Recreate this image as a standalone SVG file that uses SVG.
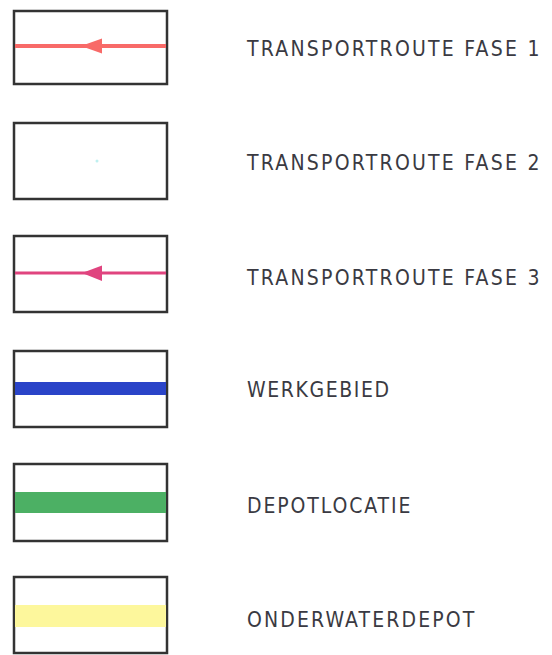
<svg xmlns="http://www.w3.org/2000/svg" width="552" height="655" viewBox="0 0 552 655">
<style>
.box{fill:#fff;stroke:#333;stroke-width:2.5}
.lbl{font-family:"DejaVu Sans Condensed","DejaVu Sans",sans-serif;font-size:21px;fill:#3a3a42;letter-spacing:1.6px}
</style>
<rect width="552" height="655" fill="#fff"/>
<g id="legend1">
<rect class="box" x="14" y="11" width="153" height="73"/>
<line x1="15" y1="46" x2="166" y2="46" stroke="#f86a68" stroke-width="4"/>
<polygon points="81,46 102,38.5 102,53.5" fill="#f86a68"/>
<text class="lbl" x="247" y="56" textLength="294" lengthAdjust="spacing">TRANSPORTROUTE FASE 1</text>
</g>
<g id="legend2">
<rect class="box" x="14" y="123" width="153" height="76"/>
<circle cx="97" cy="161" r="1.5" fill="#bff0f0"/>
<text class="lbl" x="247" y="170" textLength="294" lengthAdjust="spacing">TRANSPORTROUTE FASE 2</text>
</g>
<g id="legend3">
<rect class="box" x="14" y="236" width="153" height="76"/>
<line x1="15" y1="273" x2="166" y2="273" stroke="#e0447f" stroke-width="3"/>
<polygon points="82,273 102,265.5 102,281" fill="#e0447f"/>
<text class="lbl" x="247" y="285" textLength="294" lengthAdjust="spacing">TRANSPORTROUTE FASE 3</text>
</g>
<g id="legend4">
<rect class="box" x="14" y="351" width="153" height="76"/>
<rect x="15" y="382" width="151" height="13" fill="#2a44c8"/>
<text class="lbl" x="247" y="397">WERKGEBIED</text>
</g>
<g id="legend5">
<rect class="box" x="14" y="464" width="153" height="77"/>
<rect x="15" y="492" width="151" height="21" fill="#4cb064"/>
<text class="lbl" x="247" y="513" textLength="165" lengthAdjust="spacing">DEPOTLOCATIE</text>
</g>
<g id="legend6">
<rect class="box" x="14" y="577" width="153" height="76"/>
<rect x="15" y="605" width="151" height="22" fill="#fdf79c"/>
<text class="lbl" x="247" y="627" textLength="229" lengthAdjust="spacing">ONDERWATERDEPOT</text>
</g>
</svg>
